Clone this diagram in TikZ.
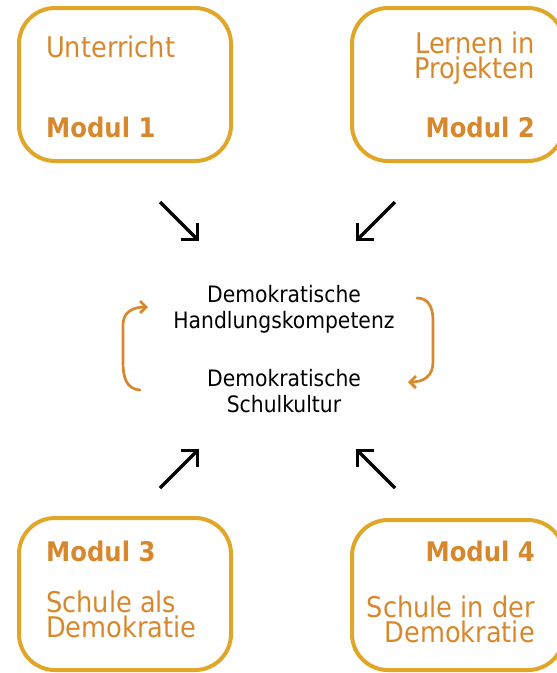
\documentclass[tikz,border=0pt]{standalone}
\usepackage{fontspec}
\setmainfont{DejaVu Sans Condensed}
\usetikzlibrary{arrows.meta}
\definecolor{boxgold}{HTML}{E0A628}
\definecolor{modorange}{HTML}{D8882C}
\begin{document}
\begin{tikzpicture}[x=1pt,y=-1pt,
  modbox/.style={draw=boxgold, line width=4pt, rounded corners=36pt,
    minimum width=212pt, minimum height=153pt, inner sep=0pt},
  label/.style={text=modorange, inner sep=0pt, font=\fontsize{28.5}{25}\selectfont},
  firstline/.style={label, text depth=0pt},
  modname/.style={label, font=\fontsize{27}{25}\selectfont\bfseries},
  centre/.style={inner sep=0pt, anchor=base, font=\fontsize{22.6}{26}\selectfont},
  inflow/.style={draw=black, line width=3.3pt, -{Straight Barb[angle=90:16pt]}},
  cycle/.style={draw=modorange, line width=2.7pt, line cap=round, -{Straight Barb[angle=90:8.5pt]}}
]
\useasboundingbox (0,0) rectangle (557,673);

% module boxes
\node[modbox] (m1) at (125,84.5) {};
\node[modbox] (m2) at (458,84.5) {};
\node[modbox, minimum height=152pt] (m3) at (125,594) {};
\node[modbox, minimum height=150pt] (m4) at (458,595) {};

% module texts
\node[label, anchor=base west] (t1a) at (46,57.5) {Unterricht};
\node[modname, anchor=base west] (t1b) at (46,137) {Modul 1};

\node[firstline, anchor=base east] (t2a) at (535,53) {Lernen in};
\node[label, anchor=base east, text height=16pt] (t2b) at (535,78) {Projekten};
\node[modname, anchor=base east] (t2c) at (535,137) {Modul 2};

\node[modname, anchor=base west] (t3a) at (46,561) {Modul 3};
\node[firstline, anchor=base west] (t3b) at (46,612) {Schule als};
\node[label, anchor=base west, text height=16pt] (t3c) at (46,637) {Demokratie};

\node[modname, anchor=base east] (t4a) at (535,561) {Modul 4};
\node[firstline, anchor=base east] (t4b) at (535,617) {Schule in der};
\node[label, anchor=base east, text height=16pt] (t4c) at (535,642) {Demokratie};

% centre texts
\node[centre] (c1) at (284,302.5) {Demokratische};
\node[centre] (c2) at (284,328.5) {Handlungskompetenz};
\node[centre] (c3) at (284,386) {Demokratische};
\node[centre] (c4) at (284,412) {Schulkultur};

% inward arrows
\coordinate (a1s) at (160,202); \coordinate (a1e) at (199,241);
\coordinate (a2s) at (395,202); \coordinate (a2e) at (356,241);
\coordinate (a3s) at (160,488); \coordinate (a3e) at (199,449);
\coordinate (a4s) at (395,488); \coordinate (a4e) at (356,449);
\draw[inflow] (a1s) -- (a1e);
\draw[inflow] (a2s) -- (a2e);
\draw[inflow] (a3s) -- (a3e);
\draw[inflow] (a4s) -- (a4e);

% cycle between the two centre topics
\coordinate (l0) at (140,390); \coordinate (l1) at (148,307);
\coordinate (r0) at (417,298); \coordinate (r1) at (408,382);
\draw[cycle] (l0) .. controls (126,389) and (123,377) .. (123,362)
  -- (123,325) .. controls (123,312) and (133,307) .. (l1);
\draw[cycle] (r0) .. controls (428,298) and (433,307) .. (433,320)
  -- (433,362) .. controls (433,376) and (424,382) .. (r1);
\end{tikzpicture}
\end{document}
